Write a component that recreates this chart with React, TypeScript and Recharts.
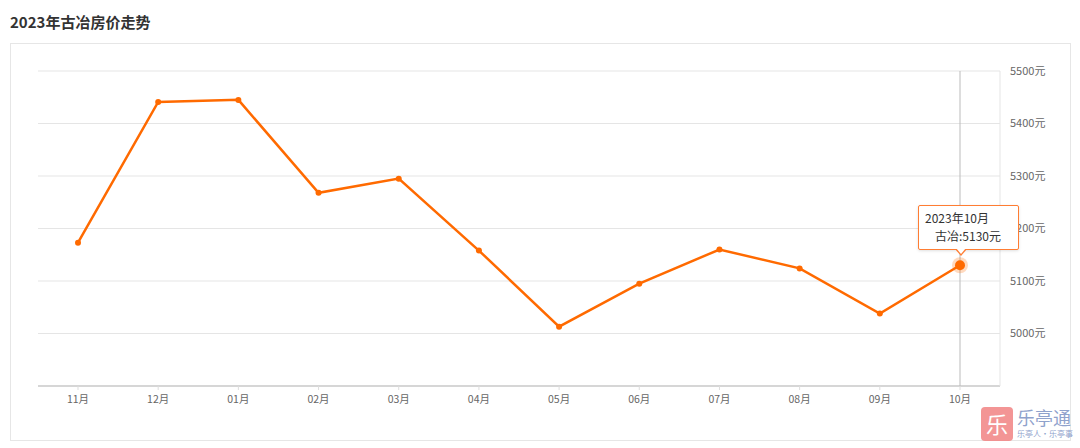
import React from 'react'
import { LineChart, Line, XAxis, YAxis, CartesianGrid, Tooltip } from 'recharts'

const months = ['11月', '12月', '01月', '02月', '03月', '04月', '05月', '06月', '07月', '08月', '09月', '10月']
const periods = ['2022年11月', '2022年12月', '2023年01月', '2023年02月', '2023年03月', '2023年04月', '2023年05月', '2023年06月', '2023年07月', '2023年08月', '2023年09月', '2023年10月']
const prices = [5173, 5441, 5445, 5268, 5295, 5158, 5013, 5095, 5160, 5124, 5038, 5130]
const yTicks = [4900, 5000, 5100, 5200, 5300, 5400, 5500]

const data = months.map((m, i) => ({ month: m, period: periods[i], price: prices[i] }))

const ORANGE = '#ff6a00'
const FONT = '"Noto Sans CJK SC", "Noto Sans", sans-serif'

const PriceTooltip = ({ active, payload }: any) => {
  if (!active || !payload || !payload.length) return null
  const d = payload[0].payload
  return (
    <div style={{ position: 'relative', width: 101, height: 45, boxSizing: 'border-box', background: '#fff', border: '1px solid #ff7d33', borderRadius: 2, boxShadow: '0 1px 3px rgba(0,0,0,0.12)', fontFamily: FONT, fontSize: 12, color: '#333', lineHeight: '18px', padding: '3px 0 0 6px' }}>
      <div>{d.period}</div>
      <div style={{ paddingLeft: 10 }}>古冶:{d.price}元</div>
      <div style={{ position: 'absolute', left: 36, bottom: -7, width: 0, height: 0, borderLeft: '6px solid transparent', borderRight: '6px solid transparent', borderTop: '7px solid #ff7d33' }} />
      <div style={{ position: 'absolute', left: 37, bottom: -5, width: 0, height: 0, borderLeft: '5px solid transparent', borderRight: '5px solid transparent', borderTop: '6px solid #fff' }} />
    </div>
  )
}

const ActiveDot = (props: any) => {
  const { cx, cy } = props
  return (
    <g>
      <circle cx={cx} cy={cy} r={8} fill={ORANGE} fillOpacity={0.25} />
      <circle cx={cx} cy={cy} r={5} fill={ORANGE} />
    </g>
  )
}

export default function App() {
  return (
    <div style={{ position: 'absolute', left: 0, top: 0, width: 1080, height: 448, background: '#fff', overflow: 'hidden' }}>
      <div style={{ position: 'absolute', left: 10, top: 11, fontFamily: FONT, fontSize: 15, fontWeight: 'bold', color: '#333', lineHeight: '22px' }}>
        2023年古冶房价走势
      </div>
      <div style={{ position: 'absolute', left: 10, top: 43, width: 1061, height: 398, boxSizing: 'border-box', border: '1px solid #e6e6e6' }} />
      <div style={{ position: 'absolute', left: 10, top: 43 }}>
        <LineChart width={1061} height={398} data={data} margin={{ top: 28, right: 11, left: 28, bottom: 25 }}>
          <CartesianGrid vertical={false} stroke="#e5e5e5" />
          <XAxis
            dataKey="month"
            padding={{ left: 40, right: 40 }}
            axisLine={{ stroke: '#cccccc', strokeWidth: 1.5 }}
            tickLine={{ stroke: '#dddddd' }}
            tickSize={4}
            tickMargin={6}
            height={30}
            tick={{ fontSize: 10.5, fill: '#666', fontFamily: FONT }}
            interval={0}
          />
          <YAxis
            orientation="right"
            domain={[4900, 5500]}
            ticks={yTicks}
            tickFormatter={(v: number) => (v === 4900 ? '' : `${v}元`)}
            axisLine={{ stroke: '#e5e5e5' }}
            tickLine={false}
            tickMargin={4}
            width={60}
            tick={{ fontSize: 11, fill: '#666', fontFamily: FONT }}
          />
          <Tooltip
            defaultIndex={11}
            content={<PriceTooltip />}
            cursor={{ stroke: '#bbbbbb', strokeWidth: 1 }}
            position={{ x: 908, y: 162 }}
            wrapperStyle={{ outline: 'none' }}
            isAnimationActive={false}
          />
          <Line
            type="linear"
            dataKey="price"
            stroke={ORANGE}
            strokeWidth={2.5}
            dot={{ r: 3, fill: ORANGE, stroke: ORANGE, strokeWidth: 0 }}
            activeDot={<ActiveDot />}
            isAnimationActive={false}
          />
        </LineChart>
      </div>
      <div style={{ position: 'absolute', left: 981, top: 407, width: 32, height: 34, borderRadius: 4, background: '#f28a8a', color: '#fff', fontFamily: FONT, fontSize: 22, lineHeight: '32px', textAlign: 'center', opacity: 0.9 }}>
        乐
      </div>
      <div style={{ position: 'absolute', left: 1017, top: 406, fontFamily: FONT, fontSize: 18, lineHeight: '22px', color: '#8fa2cc', whiteSpace: 'nowrap' }}>
        乐亭通
      </div>
      <div style={{ position: 'absolute', left: 1017, top: 429, fontFamily: FONT, fontSize: 8, lineHeight: '10px', color: '#8fa2cc', whiteSpace: 'nowrap' }}>
        乐亭人·乐亭事
      </div>
    </div>
  )
}
